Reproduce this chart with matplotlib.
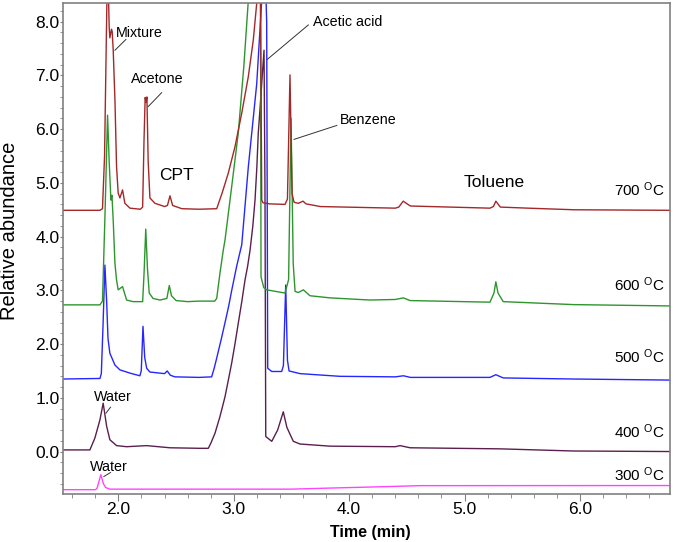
import numpy as np
import matplotlib
matplotlib.use('Agg')
import matplotlib.pyplot as plt
from matplotlib.ticker import MultipleLocator

plt.rcParams['font.family'] = ['Liberation Sans', 'DejaVu Sans']
plt.rcParams['mathtext.default'] = 'regular'

# chromatogram traces (time in min, relative abundance)
t700 = [1.52, 1.84, 1.862, 1.88, 1.90, 1.912, 1.92, 1.926, 1.94, 1.946, 1.955, 1.97, 1.984, 1.998,
        2.013, 2.036, 2.056, 2.10, 2.19, 2.210, 2.222, 2.232, 2.240, 2.247, 2.258, 2.273, 2.317,
        2.40, 2.425, 2.447, 2.47, 2.55, 2.70, 2.852, 2.90, 2.952, 3.01, 3.069, 3.126, 3.169, 3.199,
        3.22, 3.232, 3.242, 3.253, 3.31, 3.444, 3.465, 3.487, 3.505, 3.522, 3.56, 3.60, 3.626,
        3.75, 4.40, 4.43, 4.468, 4.53, 5.22, 5.25, 5.271, 5.31, 5.55, 5.95, 6.78]
v700 = [4.49, 4.49, 4.52, 5.5, 8.35, 8.7, 7.90, 7.70, 7.86, 7.82, 7.47, 6.54, 5.30, 4.81,
        4.72, 4.87, 4.62, 4.53, 4.51, 4.55, 5.8, 6.59, 6.50, 6.60, 5.4, 4.72, 4.62,
        4.56, 4.58, 4.76, 4.58, 4.52, 4.51, 4.52, 4.82, 5.18, 5.67, 6.30, 6.98, 7.66, 8.35,
        8.9, 8.35, 4.68, 4.63, 4.61, 4.60, 4.70, 7.01, 4.80, 4.64, 4.62, 4.66, 4.61,
        4.56, 4.53, 4.55, 4.66, 4.57, 4.53, 4.56, 4.66, 4.55, 4.53, 4.50, 4.49]

t600 = [1.52, 1.84, 1.862, 1.885, 1.906, 1.92, 1.935, 1.944, 1.955, 1.97, 1.984, 1.998, 2.036,
        2.071, 2.128, 2.210, 2.222, 2.237, 2.252, 2.267, 2.30, 2.36, 2.42, 2.441, 2.46, 2.50,
        2.60, 2.70, 2.835, 2.852, 2.88, 2.909, 2.924, 2.98, 3.039, 3.088, 3.126, 3.18, 3.231,
        3.236, 3.26, 3.285, 3.444, 3.475, 3.496, 3.515, 3.531, 3.56, 3.603, 3.66, 3.834,
        4.18, 4.398, 4.47, 4.528, 5.22, 5.255, 5.271, 5.29, 5.335, 5.942, 6.783]
v600 = [2.73, 2.73, 2.80, 4.5, 6.26, 5.4, 4.68, 4.77, 4.30, 3.50, 3.19, 3.01, 3.07,
        2.82, 2.79, 2.79, 3.3, 4.14, 3.4, 2.95, 2.85, 2.82, 2.85, 3.09, 2.90, 2.81,
        2.79, 2.80, 2.80, 2.85, 3.32, 3.75, 3.94, 4.90, 5.93, 7.2, 8.40, 9.6, 8.8,
        3.25, 3.05, 3.01, 2.95, 3.2, 6.20, 3.5, 2.98, 2.96, 3.01, 2.90, 2.86,
        2.82, 2.83, 2.86, 2.81, 2.78, 2.95, 3.16, 2.95, 2.79, 2.735, 2.71]

t500 = [1.52, 1.84, 1.852, 1.866, 1.883, 1.898, 1.91, 1.926, 1.97, 2.013, 2.10, 2.186, 2.198,
        2.213, 2.228, 2.245, 2.273, 2.40, 2.423, 2.45, 2.49, 2.70, 2.808, 2.83, 2.852, 2.89,
        2.924, 2.955, 2.982, 3.025, 3.069, 3.126, 3.199, 3.242, 3.265, 3.285, 3.294, 3.329,
        3.415, 3.43, 3.450, 3.465, 3.479, 3.574, 3.92, 4.40, 4.47, 4.53, 5.22, 5.271, 5.335,
        5.94, 6.78]
v500 = [1.35, 1.36, 1.45, 2.3, 3.47, 2.8, 2.1, 1.83, 1.61, 1.52, 1.46, 1.41, 1.50,
        2.33, 1.75, 1.55, 1.48, 1.45, 1.50, 1.42, 1.39, 1.38, 1.39, 1.55, 1.74, 2.08,
        2.40, 2.70, 3.0, 3.45, 3.85, 5.30, 6.85, 8.40, 9.5, 8.0, 1.55, 1.49,
        1.49, 1.6, 3.10, 1.7, 1.50, 1.45, 1.40, 1.39, 1.41, 1.38, 1.38, 1.43, 1.37,
        1.35, 1.33]

t400 = [1.52, 1.753, 1.796, 1.84, 1.868, 1.898, 1.926, 1.984, 2.071, 2.245, 2.447, 2.707,
        2.779, 2.80, 2.837, 2.88, 2.924, 2.95, 2.982, 3.01, 3.039, 3.07, 3.097, 3.12, 3.141,
        3.165, 3.184, 3.20, 3.212, 3.228, 3.242, 3.262, 3.27, 3.277, 3.329, 3.38, 3.429, 3.46,
        3.516, 3.574, 3.834, 4.40, 4.441, 4.528, 5.309, 5.942, 6.783]
v400 = [0.03, 0.03, 0.25, 0.59, 0.90, 0.47, 0.22, 0.11, 0.09, 0.11, 0.07, 0.06,
        0.06, 0.15, 0.34, 0.65, 1.02, 1.30, 1.65, 2.00, 2.39, 2.80, 3.19, 3.45, 3.75,
        4.20, 4.68, 5.30, 5.92, 6.40, 6.85, 7.47, 5.0, 0.28, 0.19, 0.40, 0.74, 0.45,
        0.19, 0.14, 0.10, 0.09, 0.11, 0.07, 0.05, 0.01, 0.0]

t300 = [1.52, 1.80, 1.814, 1.848, 1.87, 1.89, 1.926, 2.5, 3.5, 3.834, 4.2, 4.615, 6.783]
v300 = [-0.71, -0.71, -0.69, -0.43, -0.60, -0.67, -0.70, -0.70, -0.70, -0.68, -0.66, -0.635, -0.633]

temps = ['700', '600', '500', '400', '300']
temp_label_y = [4.88, 3.10, 1.77, 0.37, -0.43]

fig = plt.figure(figsize=(6.74, 5.42), dpi=100)
ax = fig.add_axes([0.0935, 0.0886, 0.9005, 0.906])

ax.plot(t300, v300, color='#ff44ff', lw=1.0)
ax.plot(t400, v400, color='#5a1f4e', lw=1.0)
ax.plot(t500, v500, color='#2626ff', lw=1.0)
ax.plot(t600, v600, color='#2e952e', lw=1.0)
ax.plot(t700, v700, color='#a3282a', lw=1.0)

ax.set_xlim(1.52, 6.78)
ax.set_ylim(-0.79, 8.35)
ax.xaxis.set_major_locator(MultipleLocator(1.0))
ax.xaxis.set_minor_locator(MultipleLocator(0.2))
ax.yaxis.set_major_locator(MultipleLocator(1.0))
ax.yaxis.set_minor_locator(MultipleLocator(0.2))
ax.xaxis.set_major_formatter('{x:.1f}')
ax.yaxis.set_major_formatter('{x:.1f}')
ax.tick_params(axis='both', which='both', direction='out', color='#808080', labelsize=12.5)
ax.tick_params(axis='x', which='major', length=5, pad=1)
ax.tick_params(axis='x', which='minor', length=3)
ax.tick_params(axis='y', which='major', length=2, pad=0.5)
ax.tick_params(axis='y', which='minor', length=2)
for s in ax.spines.values():
    s.set_color('#808080')
    s.set_linewidth(1.2)

ax.set_ylabel('Relative abundance', fontsize=14.5)
ax.yaxis.set_label_coords(-0.072, 0.535)
ax.set_xlabel('Time (min)', fontsize=11.5, fontweight='bold')
ax.xaxis.set_label_coords(0.507, -0.063)

# peak labels with leader lines
fs = 10.3
ax.plot([1.970, 2.065], [7.47, 7.67], color='#333333', lw=0.7)
ax.text(1.978, 7.79, 'Mixture', fontsize=fs, va='center', ha='left')
ax.plot([2.258, 2.375], [6.42, 6.68], color='#333333', lw=0.7)
ax.text(2.334, 6.93, 'Acetone', fontsize=fs, va='center', ha='center')
ax.plot([3.291, 3.646], [7.30, 7.94], color='#333333', lw=0.7)
ax.text(3.989, 8.00, 'Acetic acid', fontsize=fs, va='center', ha='center')
ax.plot([3.522, 3.893], [5.81, 6.07], color='#333333', lw=0.7)
ax.text(4.167, 6.18, 'Benzene', fontsize=fs, va='center', ha='center')
ax.plot([1.892, 1.932], [0.714, 0.826], color='#333333', lw=0.7)
ax.text(1.948, 1.02, 'Water', fontsize=fs, va='center', ha='center')
ax.plot([1.874, 1.932], [-0.465, -0.39], color='#333333', lw=0.7)
ax.text(1.915, -0.28, 'Water', fontsize=fs, va='center', ha='center')
ax.text(2.503, 5.13, 'CPT', fontsize=12.5, va='center', ha='center')
ax.text(5.258, 5.00, 'Toluene', fontsize=12.5, va='center', ha='center')

for lab, yy in zip(temps, temp_label_y):
    ax.text(6.735, yy, lab + ' $^{O}$C', fontsize=11, va='center', ha='right')

plt.savefig('out.png', dpi=100)
